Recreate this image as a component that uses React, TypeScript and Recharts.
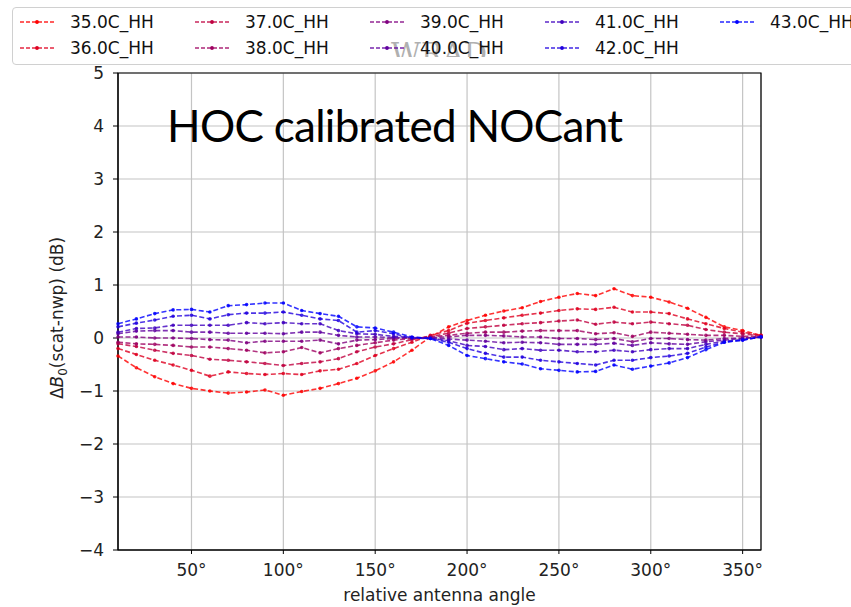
import { LineChart, Line, XAxis, YAxis, CartesianGrid, ReferenceArea } from 'recharts'

// relative antenna angle, one sample every 10°
const ANGLES = [10, 20, 30, 40, 50, 60, 70, 80, 90, 100, 110, 120, 130, 140, 150, 160, 170, 180,
  190, 200, 210, 220, 230, 240, 250, 260, 270, 280, 290, 300, 310, 320, 330, 340, 350, 360]

const T35 = [-0.34, -0.56, -0.73, -0.86, -0.95, -1.0, -1.04, -1.02, -0.98, -1.08, -1.01, -0.95, -0.86, -0.76, -0.62, -0.45, -0.23, 0.02,
  0.21, 0.33, 0.43, 0.51, 0.57, 0.69, 0.77, 0.84, 0.8, 0.93, 0.8, 0.77, 0.68, 0.56, 0.39, 0.21, 0.14, 0.05]
const T36 = [-0.2, -0.31, -0.42, -0.51, -0.61, -0.72, -0.64, -0.67, -0.69, -0.67, -0.69, -0.62, -0.59, -0.48, -0.33, -0.2, -0.08, 0.05,
  0.14, 0.28, 0.33, 0.38, 0.43, 0.47, 0.52, 0.55, 0.54, 0.58, 0.49, 0.49, 0.46, 0.36, 0.27, 0.18, 0.11, 0.05]
const T37 = [-0.11, -0.16, -0.23, -0.29, -0.33, -0.4, -0.42, -0.45, -0.48, -0.52, -0.48, -0.45, -0.39, -0.26, -0.17, -0.11, -0.03, 0.03,
  0.09, 0.18, 0.21, 0.24, 0.27, 0.29, 0.32, 0.34, 0.26, 0.3, 0.27, 0.3, 0.27, 0.24, 0.16, 0.11, 0.08, 0.04]
const T38 = [-0.08, -0.11, -0.12, -0.14, -0.17, -0.17, -0.2, -0.23, -0.28, -0.26, -0.18, -0.28, -0.2, -0.14, -0.09, -0.04, -0.01, 0.02,
  0.05, 0.09, 0.11, 0.11, 0.13, 0.14, 0.14, 0.14, 0.08, 0.1, 0.03, 0.11, 0.09, 0.07, 0.05, 0.05, 0.03, 0.03]
const T39 = [0.02, 0.02, 0.0, 0.0, -0.01, -0.03, -0.04, -0.09, -0.06, -0.06, -0.06, -0.04, -0.11, -0.04, -0.03, -0.01, 0.0, 0.01,
  0.02, 0.05, 0.05, 0.04, 0.02, 0.02, -0.01, -0.01, -0.03, -0.01, -0.07, -0.01, -0.01, -0.03, -0.04, -0.01, 0.0, 0.02]
const T40 = [0.08, 0.13, 0.14, 0.14, 0.11, 0.11, 0.09, 0.09, 0.09, 0.08, 0.11, 0.11, 0.05, 0.02, 0.02, 0.01, 0.01, 0.0,
  -0.02, -0.04, -0.06, -0.09, -0.08, -0.09, -0.12, -0.12, -0.12, -0.1, -0.14, -0.09, -0.11, -0.12, -0.07, -0.04, -0.01, 0.02]
const T41 = [0.11, 0.18, 0.19, 0.24, 0.24, 0.24, 0.24, 0.29, 0.27, 0.29, 0.27, 0.27, 0.14, 0.08, 0.07, 0.03, 0.01, -0.01,
  -0.05, -0.14, -0.16, -0.22, -0.2, -0.23, -0.23, -0.26, -0.26, -0.23, -0.26, -0.22, -0.2, -0.2, -0.12, -0.06, -0.03, 0.02]
const T42 = [0.21, 0.28, 0.34, 0.41, 0.43, 0.36, 0.44, 0.47, 0.47, 0.49, 0.43, 0.36, 0.33, 0.11, 0.14, 0.08, 0.0, -0.01,
  -0.08, -0.2, -0.29, -0.36, -0.36, -0.42, -0.45, -0.48, -0.51, -0.42, -0.42, -0.37, -0.34, -0.29, -0.17, -0.08, -0.04, 0.02]
const T43 = [0.27, 0.36, 0.46, 0.53, 0.54, 0.49, 0.61, 0.63, 0.66, 0.66, 0.52, 0.46, 0.41, 0.21, 0.19, 0.11, 0.02, -0.01,
  -0.14, -0.33, -0.39, -0.45, -0.49, -0.58, -0.61, -0.64, -0.63, -0.51, -0.59, -0.53, -0.47, -0.37, -0.22, -0.08, -0.04, 0.02]

const NAMES = ['35.0C_HH', '36.0C_HH', '37.0C_HH', '38.0C_HH', '39.0C_HH', '40.0C_HH', '41.0C_HH', '42.0C_HH', '43.0C_HH']
const VALUES = [T35, T36, T37, T38, T39, T40, T41, T42, T43]
const COLORS = ['#ff0000', '#df0020', '#bf0040', '#9f0060', '#800080', '#60009f', '#4000bf', '#2000df', '#0000ff']

const X_TICKS = [50, 100, 150, 200, 250, 300, 350]
const Y_TICKS = [-4, -3, -2, -1, 0, 1, 2, 3, 4, 5]

const data = ANGLES.map((angle, i) => {
  const row: Record<string, number> = { angle }
  NAMES.forEach((name, k) => { row[name] = VALUES[k][i] })
  return row
})

const FONT = '"DejaVu Sans", sans-serif'
const fmtY = (v: number) => (v < 0 ? `\u2212${Math.abs(v)}` : `${v}`)

function LegendBox() {
  return (
    <div style={{
      position: 'absolute', left: 12, top: 7, width: 860, height: 56,
      border: '1px solid #d0d0d0', borderRadius: 4, background: 'rgba(255,255,255,0.85)',
      fontFamily: FONT, fontSize: 17, color: '#111', overflow: 'hidden',
    }}>
      <svg width={851} height={56} style={{ position: 'absolute', left: -12, top: -7 }}>
        <text x={438} y={63} textAnchor="middle" fill="#b0b0b0" fontSize={29} fontFamily='"DejaVu Serif", serif'>WRAD</text>
      </svg>
      {NAMES.map((name, k) => {
        const col = Math.floor(k / 2)
        const row = k % 2
        return (
          <div key={name} style={{
            position: 'absolute', left: 6 + col * 175, top: 3 + row * 26, height: 22,
            display: 'flex', alignItems: 'center', whiteSpace: 'nowrap',
          }}>
            <svg width={36} height={8} style={{ marginRight: 15 }}>
              <line x1={1} y1={4} x2={35} y2={4} stroke={COLORS[k]} strokeWidth={1.5} strokeDasharray="4 2" strokeOpacity={0.85} />
              <circle cx={18} cy={4} r={1.9} fill={COLORS[k]} />
            </svg>
            <span>{name}</span>
          </div>
        )
      })}
    </div>
  )
}

export default function App() {
  return (
    <div style={{ position: 'relative', width: 851, height: 607, background: '#fff', overflow: 'hidden' }}>
      <style>{'body{margin:0}'}</style>
      <LineChart width={851} height={607} data={data} margin={{ top: 73, right: 90, bottom: 0, left: 0 }}>
        <CartesianGrid stroke="#c4c4c4" strokeWidth={1.2} />
        <XAxis
          dataKey="angle" type="number" domain={[10, 360]} ticks={X_TICKS} height={57}
          tickFormatter={(v: number) => `${v}°`}
          tick={{ fontSize: 17, fill: '#222', fontFamily: FONT }}
          tickSize={4} tickMargin={10} stroke="#000"
          label={{ value: 'relative antenna angle', position: 'insideBottom', offset: 6, fontSize: 17, fill: '#222', fontFamily: FONT }}
        />
        <YAxis
          type="number" domain={[-4, 5]} ticks={Y_TICKS} width={118} allowDataOverflow
          tickFormatter={fmtY}
          tick={{ fontSize: 17, fill: '#222', fontFamily: FONT }}
          tickSize={5} tickMargin={9} stroke="#000"
          label={{
            content: () => (
              <text transform="translate(63,318) rotate(-90)" textAnchor="middle" fontSize={17} fill="#222" fontFamily={FONT}>
                Δ<tspan fontStyle="italic">B</tspan><tspan dy={4} fontSize={12}>0</tspan><tspan dy={-4}>(scat-nwp) (dB)</tspan>
              </text>
            ),
          }}
        />
        <ReferenceArea x1={10} x2={360} y1={-4} y2={5} fill="none" stroke="#000" strokeWidth={1.2} ifOverflow="visible" />
        {NAMES.map((name, k) => (
          <Line
            key={name}
            type="linear"
            dataKey={name}
            stroke={COLORS[k]}
            strokeWidth={1.6}
            strokeOpacity={0.8}
            strokeDasharray="5 2.5"
            dot={{ r: 1.8, fill: COLORS[k], stroke: 'none', fillOpacity: 0.85 }}
            activeDot={false}
            isAnimationActive={false}
          />
        ))}
      </LineChart>
      <svg width={851} height={607} style={{ position: 'absolute', left: 0, top: 0, pointerEvents: 'none' }}>
        <text x={167} y={142} fontSize={44} fontFamily="Lato, sans-serif" fill="#000" textLength={456}>HOC calibrated NOCant</text>
      </svg>
      <LegendBox />
    </div>
  )
}
